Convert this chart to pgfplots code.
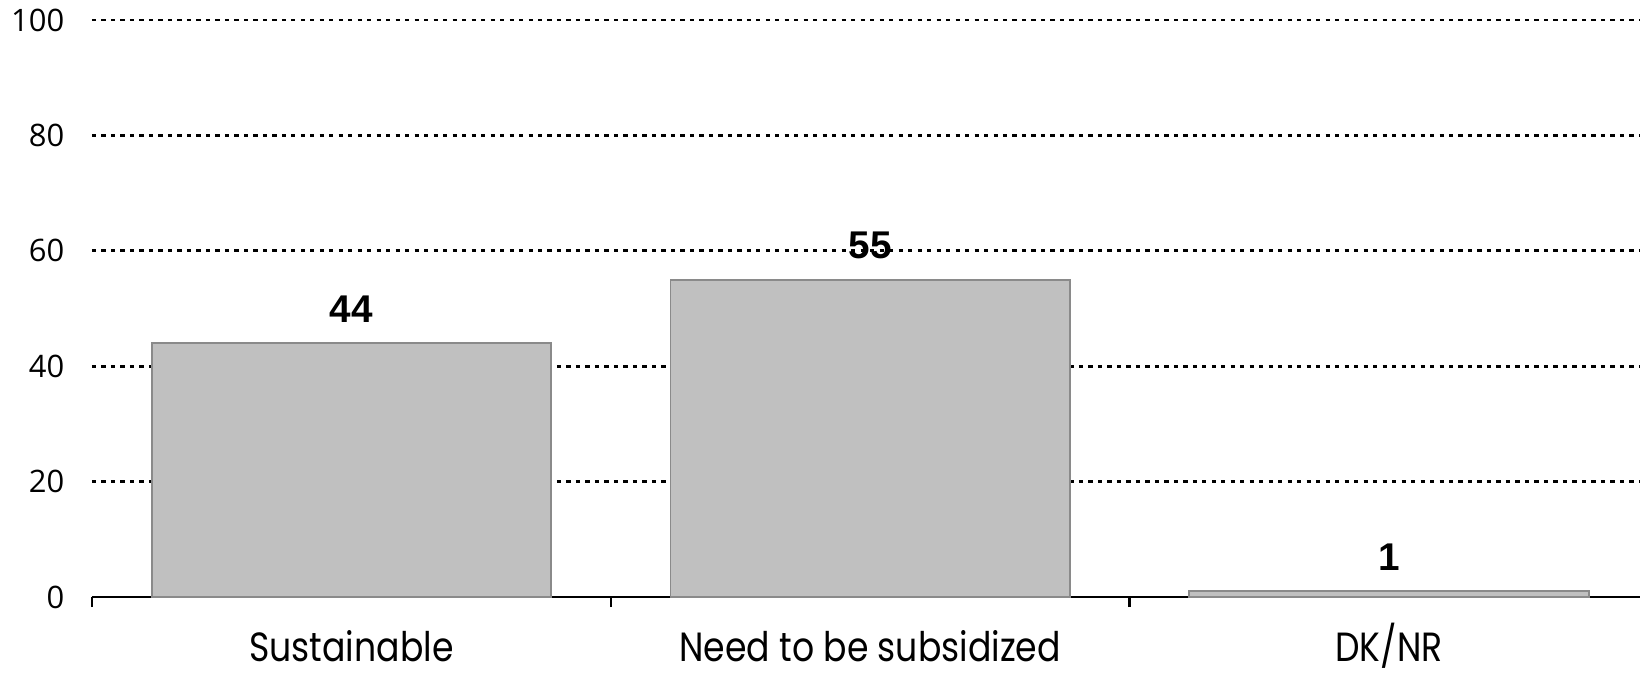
\documentclass[border=0pt]{standalone}
\usepackage{pgfplots}
\pgfplotsset{compat=1.18}
\usepackage{fontspec}
\setmainfont{Open Sans}
\newfontfamily\catfont[FakeStretch=0.85]{Poppins}
\newfontfamily\numfont{Liberation Sans}
\definecolor{barfill}{HTML}{C0C0C0}
\definecolor{barline}{HTML}{8A8A8A}
\begin{document}
\begin{tikzpicture}
\useasboundingbox (-0.92cm,-0.75cm) rectangle (15.48cm,5.97cm);
\begin{axis}[
  at={(0,0)}, anchor=south west,
  scale only axis, width=15.48cm, height=5.77cm,
  xmin=-0.5, xmax=2.484, ymin=0, ymax=100,
  clip=false,
  axis x line*=bottom, axis y line*=left,
  y axis line style={draw=none},
  x axis line style={black, line width=0.6pt},
  xtick={0,1,2},
  xticklabels={Sustainable, Need to be subsidized, DK/NR},
  minor xtick={-0.5,0.5,1.5},
  major tick length=0pt,
  minor tick length=1mm,
  xtick align=outside,
  minor tick style={black, line width=0.6pt},
  ytick={0,20,40,60,80,100},
  ytick style={draw=none},
  ymajorgrids,
  grid style={black, line width=0.75pt, dash pattern=on 1.2pt off 1.5pt},
  /pgf/number format/assume math mode=true,
  yticklabel style={font=\fontsize{8.8}{10}\selectfont, anchor=east, inner sep=0pt, xshift=-2.7mm},
  xticklabel style={font=\catfont\fontsize{11.6}{13}\selectfont, anchor=base, inner sep=0pt, yshift=-6.4mm},
]
\addplot[ybar, bar width=0.77, fill=barfill, draw=barline, line width=0.5pt,
  nodes near coords,
  every node near coord/.append style={font=\numfont\bfseries\fontsize{11}{13}\selectfont, anchor=south, inner sep=0pt, yshift=2.0mm, text=black}]
  coordinates {(0,44) (1,55) (2,1)};
\end{axis}
\end{tikzpicture}
\end{document}
